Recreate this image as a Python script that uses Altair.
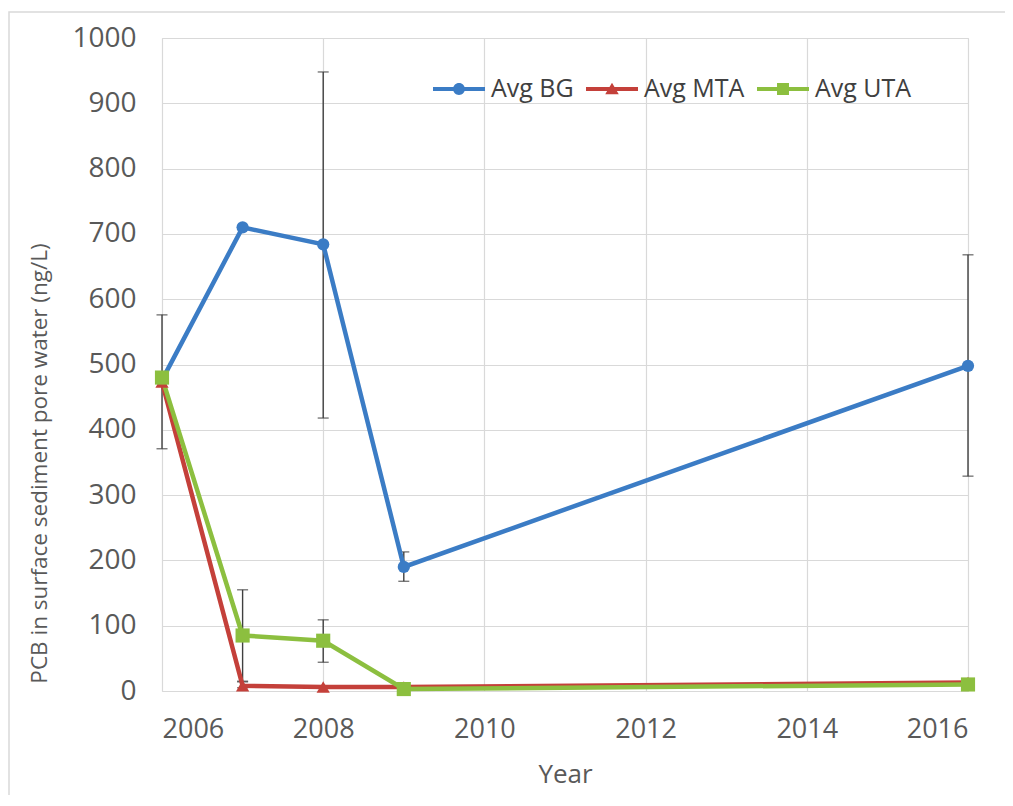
import altair as alt
import pandas as pd

years = [2006, 2007, 2008, 2009, 2016]
series_names = ["Avg BG", "Avg MTA", "Avg UTA"]
avg_bg = [476, 710, 684, 190, 498]
avg_mta = [473, 8, 6, 6, 13]
avg_uta = [480, 85, 77, 3, 10]

eb_series = ["Avg BG", "Avg BG", "Avg BG", "Avg BG", "Avg MTA", "Avg UTA", "Avg UTA"]
eb_year = [2006, 2008, 2009, 2016, 2007, 2007, 2008]
eb_low = [371, 418, 168, 329, 5, 15, 44]
eb_high = [576, 948, 213, 668, 14, 155, 109]

colors = ["#3B7CC5", "#C4403A", "#8CBF3F"]
x_ticks = [2006, 2008, 2010, 2012, 2014, 2016]
y_ticks = list(range(0, 1001, 100))

rows = []
for name, vals in zip(series_names, [avg_bg, avg_mta, avg_uta]):
    for yr, v in zip(years, vals):
        rows.append({"series": name, "year": yr, "value": v})
df = pd.DataFrame(rows)
eb = pd.DataFrame({"series": eb_series, "year": eb_year, "lo": eb_low, "hi": eb_high})

FONT = "Open Sans"
xscale = alt.Scale(domain=[2006, 2016], nice=False, zero=False)
yscale = alt.Scale(domain=[0, 1000], nice=False)
cscale = alt.Scale(domain=series_names, range=colors)

xaxis = alt.Axis(values=x_ticks, format="d", title="Year", grid=True, ticks=False, domain=False,
                 labelFontSize=27, labelColor="#595959", labelFont=FONT, labelPadding=25,
                 titleFontSize=26, titleColor="#595959", titleFont=FONT, titleFontWeight="normal",
                 titlePadding=19, gridColor="#D9D9D9", gridWidth=1.2)
yaxis = alt.Axis(values=y_ticks, format="d", title="PCB in surface sediment pore water (ng/L)",
                 grid=True, ticks=False, domain=False, labelFontSize=28, labelColor="#595959",
                 labelFont=FONT, labelPadding=26, titleFontSize=22.5, titleColor="#595959",
                 titleFont=FONT, titleFontWeight="normal", titlePadding=20, titleY=425,
                 gridColor="#D9D9D9", gridWidth=1.2)

base = alt.Chart(df)

frame = alt.Chart(pd.DataFrame({"k": [0]})).mark_rect(
    fillOpacity=0, stroke="#D9D9D9", strokeWidth=1.5, clip=False
).encode(x=alt.value(-153), x2=alt.value(900), y=alt.value(-26), y2=alt.value(820))

axes_layer = base.mark_line(opacity=0).encode(
    x=alt.X("year:Q", scale=xscale, axis=xaxis),
    y=alt.Y("value:Q", scale=yscale, axis=yaxis),
    detail="series:N",
)

ebars = alt.Chart(eb).mark_rule(color="#404040", strokeWidth=1.4).encode(
    x=alt.X("year:Q", scale=xscale), y=alt.Y("lo:Q", scale=yscale), y2="hi:Q"
)
cap_lo = alt.Chart(eb).mark_tick(color="#404040", thickness=1.4, size=11, orient="horizontal").encode(
    x=alt.X("year:Q", scale=xscale), y=alt.Y("lo:Q", scale=yscale)
)
cap_hi = alt.Chart(eb).mark_tick(color="#404040", thickness=1.4, size=11, orient="horizontal").encode(
    x=alt.X("year:Q", scale=xscale), y=alt.Y("hi:Q", scale=yscale)
)

lines = base.mark_line(strokeWidth=4.5).encode(
    x=alt.X("year:Q", scale=xscale),
    y=alt.Y("value:Q", scale=yscale),
    color=alt.Color("series:N", scale=cscale, legend=None),
)

points = base.mark_point(filled=True, opacity=1).encode(
    x=alt.X("year:Q", scale=xscale),
    y=alt.Y("value:Q", scale=yscale),
    color=alt.Color("series:N", scale=cscale, legend=None),
    shape=alt.Shape("series:N", scale=alt.Scale(domain=series_names,
                                                range=["circle", "triangle-up", "square"]), legend=None),
    size=alt.Size("series:N", scale=alt.Scale(domain=series_names, range=[150, 200, 200]), legend=None),
)

bar = "M-1,-0.08L1,-0.08L1,0.08L-1,0.08Z"
legend_shapes = [
    bar + " M0.23,0A0.23,0.23 0 1,1 -0.23,0A0.23,0.23 0 1,1 0.23,0Z",
    bar + " M0,-0.24L0.26,0.2L-0.26,0.2Z",
    bar + " M-0.23,-0.23L0.23,-0.23L0.23,0.23L-0.23,0.23Z",
]
leg = alt.Legend(orient="none", legendX=271, legendY=25, direction="horizontal", title=None,
                 symbolSize=2704, symbolOpacity=1, symbolStrokeWidth=0, labelFontSize=25,
                 labelColor="#404040", labelFont=FONT, labelOffset=6, columnPadding=12, padding=0)
legend_layer = base.mark_point(filled=True, opacity=0).encode(
    x=alt.X("year:Q", scale=xscale),
    y=alt.Y("value:Q", scale=yscale),
    color=alt.Color("series:N", scale=cscale, legend=leg, title=None),
    shape=alt.Shape("series:N", scale=alt.Scale(domain=series_names, range=legend_shapes),
                    legend=leg, title=None),
)

chart = alt.layer(frame, axes_layer, ebars, cap_lo, cap_hi, lines, points, legend_layer).resolve_scale(
    color="independent", shape="independent", size="independent"
).properties(
    width=806, height=653,
    autosize=alt.AutoSizeParams(type="none"),
    padding={"left": 154, "top": 30, "right": 37, "bottom": 104},
).configure_view(stroke=None).configure(background="white")

chart.save("out.html", embed_options={"renderer": "svg", "actions": False})
